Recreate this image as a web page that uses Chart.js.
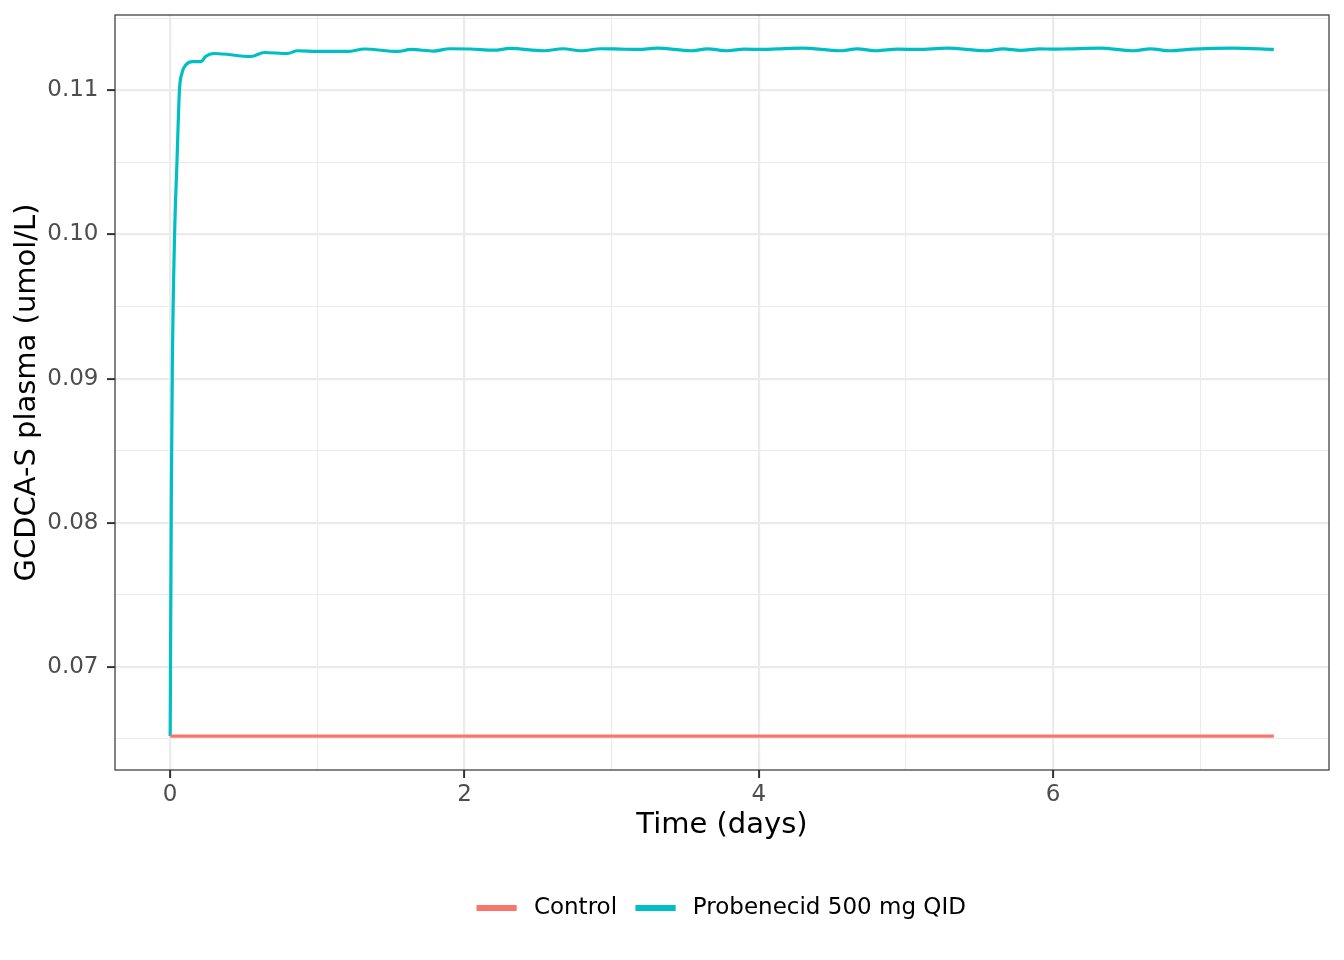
<!DOCTYPE html>
<html lang="en">
<head>
<meta charset="UTF-8">
<title>GCDCA-S plasma</title>
<script src="https://cdn.jsdelivr.net/npm/chart.js"></script>
<style>
  body { margin: 0; background: #ffffff; }
</style>
</head>
<body>
<canvas id="chart" width="1344" height="960"></canvas>
<script>
// values
const seriesNames = ["Control", "Probenecid 500 mg QID"];
const seriesColors = ["#F8766D", "#00BFC4"];

const controlTime = [0, 7.5];
const controlValue = [0.0652, 0.0652];

const probTime = [
  0.000, 0.008, 0.015, 0.030, 0.046, 0.063, 0.080, 0.109, 0.154, 0.211,
  0.240, 0.300, 0.550, 0.639, 0.797, 0.865, 1.000, 1.206, 1.320, 1.546,
  1.636, 1.790, 1.900, 2.040, 2.200, 2.310, 2.540, 2.670, 2.790, 2.930,
  3.060, 3.180, 3.310, 3.540, 3.650, 3.790, 3.900, 4.030, 4.130, 4.300,
  4.550, 4.670, 4.800, 4.940, 5.080, 5.280, 5.540, 5.660, 5.780, 5.910,
  6.000, 6.100, 6.320, 6.540, 6.660, 6.800, 6.950, 7.220, 7.500
];
const probValue = [
  0.0652, 0.0822, 0.0912, 0.1000, 0.1050, 0.1100, 0.1112, 0.1118, 0.1120, 0.1120,
  0.11235, 0.11256, 0.11235, 0.11263, 0.11256, 0.11275, 0.11270, 0.11270, 0.11287, 0.11270,
  0.11284, 0.11273, 0.11289, 0.11287, 0.11279, 0.11291, 0.11275, 0.11289, 0.11275, 0.11289,
  0.11286, 0.11284, 0.11293, 0.11275, 0.11288, 0.11275, 0.11286, 0.11284, 0.11288, 0.11293,
  0.11275, 0.11288, 0.11275, 0.11286, 0.11284, 0.11293, 0.11275, 0.11288, 0.11277, 0.11288,
  0.11286, 0.11288, 0.11293, 0.11275, 0.11288, 0.11275, 0.11286, 0.11293, 0.11284
];

const xMajor = [0, 2, 4, 6];
const xMinor = [1, 3, 5, 7];
const yMajor = [0.07, 0.08, 0.09, 0.10, 0.11];
const yMinor = [0.065, 0.075, 0.085, 0.095, 0.105, 0.115];

const isIn = (list, v) => list.some(m => Math.abs(m - v) < 1e-9);
const toPoints = (xs, ys) => xs.map((x, i) => ({ x: x, y: ys[i] }));

const tickFont = { family: "DejaVu Sans", size: 23 };
const titleFont = { family: "DejaVu Sans", size: 29 };

// panel border like theme_bw
const panelBorder = {
  id: "panelBorder",
  afterDraw(chart) {
    const a = chart.chartArea, ctx = chart.ctx;
    ctx.save();
    ctx.strokeStyle = "#333333";
    ctx.lineWidth = 1.2;
    ctx.strokeRect(a.left, a.top, a.right - a.left, a.bottom - a.top);
    ctx.restore();
  }
};

const gridOpts = (major) => ({
  color: "#EBEBEB",
  lineWidth: (c) => isIn(major, c.tick.value) ? 2.2 : 1.1,
  tickColor: (c) => isIn(major, c.tick.value) ? "#333333" : "rgba(0,0,0,0)",
  tickWidth: 2,
  tickLength: 8
});

new Chart(document.getElementById("chart"), {
  type: "line",
  data: {
    datasets: [
      {
        label: seriesNames[0],
        data: toPoints(controlTime, controlValue),
        borderColor: seriesColors[0],
        backgroundColor: seriesColors[0],
        borderWidth: 3.2,
        pointRadius: 0
      },
      {
        label: seriesNames[1],
        data: toPoints(probTime, probValue),
        borderColor: seriesColors[1],
        backgroundColor: seriesColors[1],
        borderWidth: 3.2,
        pointRadius: 0,
        cubicInterpolationMode: "monotone"
      }
    ]
  },
  options: {
    responsive: false,
    animation: false,
    layout: { padding: { top: 15, right: 15, left: 0, bottom: 30.5 } },
    plugins: {
      tooltip: { enabled: false },
      legend: {
        position: "bottom",
        fullSize: false,
        labels: {
          boxWidth: 37,
          boxHeight: 3,
          padding: 20,
          color: "#000000",
          font: tickFont,
          generateLabels: (chart) =>
            Chart.defaults.plugins.legend.labels.generateLabels(chart).map(l => ({ ...l, text: " " + l.text }))
        }
      }
    },
    scales: {
      x: {
        type: "linear",
        min: -0.375,
        max: 7.875,
        afterBuildTicks: (s) => { s.ticks = xMajor.concat(xMinor).sort((a, b) => a - b).map(v => ({ value: v })); },
        afterFit: (s) => { s.height = 106.5; s.paddingLeft = 0; s.paddingRight = 0; },
        grid: gridOpts(xMajor),
        border: { display: false },
        ticks: {
          color: "#4D4D4D",
          font: tickFont,
          padding: 3,
          maxRotation: 0,
          autoSkip: false,
          callback: (v) => isIn(xMajor, v) ? String(v) : ""
        },
        title: {
          display: true,
          text: "Time (days)",
          color: "#000000",
          font: titleFont,
          padding: { top: 0, bottom: 34 }
        }
      },
      y: {
        type: "linear",
        min: 0.06285,
        max: 0.11523,
        afterBuildTicks: (s) => { s.ticks = yMajor.concat(yMinor).sort((a, b) => a - b).map(v => ({ value: v })); },
        afterFit: (s) => { s.width = 115; s.paddingTop = 0; s.paddingBottom = 0; },
        grid: gridOpts(yMajor),
        border: { display: false },
        ticks: {
          color: "#4D4D4D",
          font: tickFont,
          padding: 8.5,
          autoSkip: false,
          callback: (v) => isIn(yMajor, v) ? v.toFixed(2) : ""
        },
        title: {
          display: true,
          text: "GCDCA-S plasma (umol/L)",
          color: "#000000",
          font: titleFont,
          padding: { top: 9.6, bottom: 0 }
        }
      }
    }
  },
  plugins: [panelBorder]
});
</script>
</body>
</html>
